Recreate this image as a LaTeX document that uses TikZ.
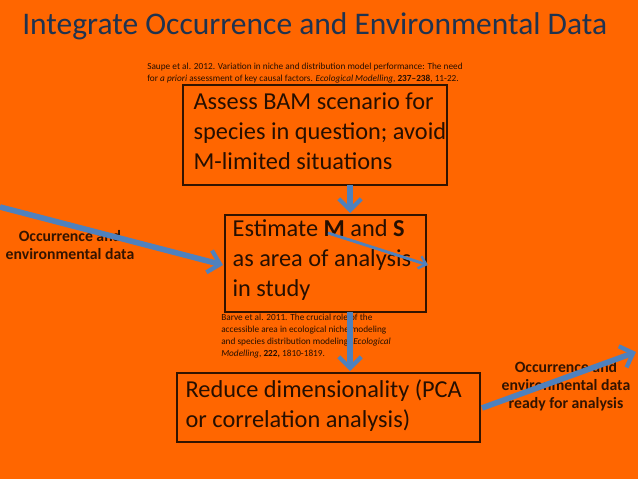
\documentclass[tikz,border=0pt]{standalone}
\usepackage{fontspec}
\setmainfont{Carlito}
\usetikzlibrary{arrows.meta}
\definecolor{bg}{HTML}{FF6600}
\definecolor{arr}{HTML}{4F81BD}
\definecolor{ttl}{HTML}{1F3350}
\tikzset{
 box/.style={draw=black!80!bg,line width=0.9pt,anchor=north west,align=left,inner sep=0pt,font=\fontsize{17.3}{21.5}\selectfont,text=black!85!bg},
 cite/.style={anchor=north west,align=left,inner sep=0pt,font=\fontsize{6.6}{8.4}\selectfont,text=black!85!bg},
 lbl/.style={align=center,inner sep=0pt,font=\bfseries\fontsize{11.2}{12.8}\selectfont,text=black!80!bg},
 bar/.style={draw=arr,line width=4pt,-{Straight Barb[length=8pt,width=16pt,line width=3pt]}},
 thin/.style={draw=arr,line width=2pt,-{Straight Barb[length=5pt,width=9pt,line width=1.8pt]}}
}
\begin{document}
\begin{tikzpicture}[x=0.025cm,y=-0.025cm]
\fill[bg] (0,0) rectangle (638,479);
\useasboundingbox (0,0) rectangle (638,479);
\node[anchor=west,inner sep=0pt,text=ttl,font=\fontsize{22.4}{25}\selectfont] (title) at (22,26) {Integrate Occurrence and Environmental Data};
\node[cite] (c1) at (147,63) {Saupe et al. 2012. Variation in niche and distribution model performance: The need\\for \textit{a priori} assessment of key causal factors. \textit{Ecological Modelling}, \textbf{237--238}, 11-22.};
\draw[box] (183,85) rectangle (447,185);
\node[box,draw=none] (b1) at (193,92) {Assess BAM scenario for\\species in question; avoid\\M-limited situations};
\draw[box] (225,215) rectangle (426,312);
\node[box,draw=none] (b2) at (232,219) {Estimate \textbf{M} and \textbf{S}\\as area of analysis\\in study};
\node[cite] (c2) at (221,314) {Barve et al. 2011. The crucial role of the\\accessible area in ecological niche modeling\\and species distribution modeling. \textit{Ecological}\\\textit{Modelling}, \textbf{222,} 1810-1819.};
\draw[box] (177,373) rectangle (480,442);
\node[box,draw=none] (b3) at (185,379) {Reduce dimensionality (PCA\\or correlation analysis)};
\node[lbl] (l1) at (70,245) {Occurrence and\\environmental data};
\node[lbl] (l2) at (566,386) {Occurrence and\\environmental data\\ready for analysis};
\coordinate (a0) at (0,207); \coordinate (a1) at (223,265);
\coordinate (d0) at (350,185); \coordinate (d1) at (350,213);
\coordinate (e0) at (350,312); \coordinate (e1) at (350,371);
\coordinate (r0) at (482,408); \coordinate (r1) at (636,352);
\coordinate (t0) at (328,233); \coordinate (t1) at (428,265);
\draw[bar] (a0) -- (a1);
\draw[bar] (d0) -- (d1);
\draw[bar] (e0) -- (e1);
\draw[bar] (r0) -- (r1);
\draw[thin] (t0) -- (t1);
\end{tikzpicture}
\end{document}
